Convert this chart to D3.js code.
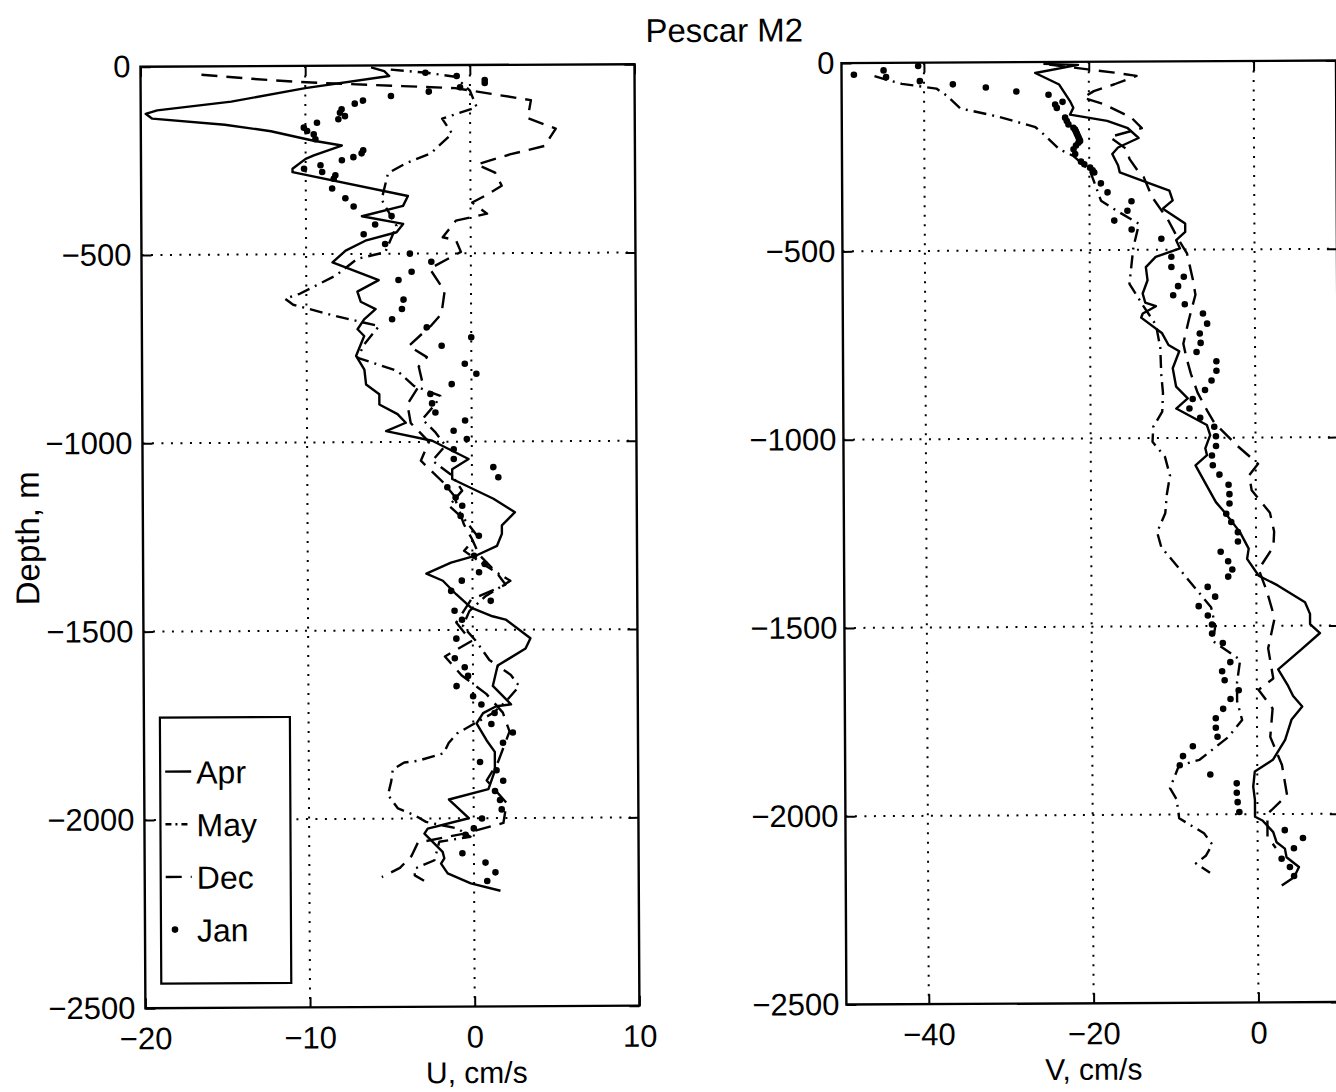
<!DOCTYPE html>
<html><head><meta charset="utf-8">
<script src="https://cdn.jsdelivr.net/npm/d3@7"></script>
<style>body{margin:0;background:#fff}svg{display:block}text{font-family:"Liberation Sans",Arial,Helvetica,sans-serif;fill:#000}</style>
</head><body>
<svg id="c" width="1336" height="1092"></svg>
<script>
// ---------- DATA (depth m, velocity cm/s) ----------
const months = ["Apr", "May", "Dec", "Jan"];
const xTicksU = [-20, -10, 0, 10];
const xTicksV = [-40, -20, 0];
const yTicks = [0, -500, -1000, -1500, -2000, -2500];
const title = "Pescar M2";

const aprU = [[-5,-6.0],[-15,-5.2],[-28,-4.9],[-59,-10.0],[-94,-14.5],[-116,-19.0],[-125,-19.7],[-138,-19.3],[-155,-14.9],[-173,-12.1],[-190,-10.4],[-199,-9.5],[-212,-7.8],[-238,-9.5],[-247,-10.0],[-273,-10.8],[-282,-10.8],[-347,-3.8],[-373,-4.1],[-400,-6.6],[-421,-4.1],[-443,-4.5],[-465,-6.4],[-491,-7.6],[-522,-8.4],[-570,-5.6],[-600,-6.9],[-627,-6.7],[-647,-5.8],[-674,-6.5],[-700,-6.9],[-718,-6.5],[-771,-7.0],[-807,-6.5],[-847,-6.4],[-873,-5.6],[-900,-5.6],[-926,-4.5],[-949,-4.0],[-971,-5.2],[-997,-2.4],[-1046,-0.2],[-1073,-1.2],[-1099,-1.2],[-1152,1.3],[-1188,2.6],[-1223,1.8],[-1245,1.8],[-1277,1.5],[-1303,0.2],[-1321,-1.3],[-1350,-2.8],[-1369,-1.8],[-1405,-1.0],[-1441,-0.1],[-1464,1.2],[-1473,2.0],[-1523,3.5],[-1550,3.2],[-1595,1.5],[-1649,1.2],[-1698,2.3],[-1703,1.4],[-1721,0.6],[-1748,0.2],[-1793,0.8],[-1824,1.3],[-1874,1.3],[-1923,0.9],[-1950,-1.5],[-2000,-0.3],[-2027,-2.8],[-2040,-3.0],[-2089,-1.9],[-2106,-1.8],[-2120,-2.0],[-2146,-1.6],[-2173,-0.2],[-2193,1.6]];
const mayU = [[-11,-4.8],[-20,-2.6],[-31,-0.9],[-68,0.0],[-112,0.4],[-142,-1.7],[-182,-1.1],[-234,-2.4],[-260,-3.9],[-286,-5.0],[-356,-5.4],[-426,-4.5],[-496,-5.2],[-513,-6.9],[-557,-8.2],[-605,-10.4],[-618,-11.3],[-634,-10.8],[-665,-8.2],[-692,-5.6],[-740,-6.5],[-776,-6.9],[-811,-4.5],[-851,-3.5],[-878,-1.9],[-900,-2.2],[-940,-3.0],[-975,-2.2],[-1010,-1.6],[-1050,-2.4],[-1090,-1.2],[-1130,-0.6],[-1170,-1.4],[-1210,-0.4],[-1250,0.3],[-1290,-0.5],[-1330,0.8],[-1370,2.3],[-1410,0.8],[-1450,-0.2],[-1490,-0.6],[-1530,0.2],[-1580,1.0],[-1620,2.3],[-1650,2.8],[-1690,2.0],[-1721,1.2],[-1748,0.1],[-1775,-1.0],[-1800,-1.5],[-1827,-1.8],[-1847,-3.4],[-1851,-4.2],[-1869,-4.9],[-1901,-5.0],[-1937,-5.2],[-1973,-4.6],[-1991,-3.6],[-2009,-2.9],[-2027,-1.0],[-2049,-0.2],[-2062,-2.1],[-2111,-2.4],[-2133,-3.6],[-2151,-3.6],[-2169,-2.9]];
const decU = [[-22,-16.3],[-33,-13.4],[-42,-10.6],[-48,-7.8],[-55,-4.1],[-61,-0.9],[-77,1.3],[-94,3.7],[-142,3.5],[-170,5.2],[-216,4.5],[-238,2.4],[-264,0.4],[-286,1.5],[-321,1.9],[-347,0.9],[-365,0.1],[-395,1.0],[-413,-0.9],[-457,-1.7],[-465,-0.9],[-496,-0.6],[-540,-2.5],[-600,-1.6],[-660,-1.8],[-690,-2.4],[-745,-3.8],[-775,-2.7],[-800,-3.2],[-838,-3.0],[-900,-3.9],[-950,-3.7],[-1000,-2.6],[-1050,-3.1],[-1110,-1.7],[-1143,-1.1],[-1220,-0.5],[-1260,0.0],[-1300,0.4],[-1350,1.5],[-1380,2.0],[-1420,-0.1],[-1480,-1.0],[-1530,-0.1],[-1570,-1.7],[-1620,-0.7],[-1670,0.8],[-1720,1.8],[-1770,2.2],[-1850,1.5],[-1900,0.8],[-1960,2.0],[-2013,1.8],[-2040,-0.5],[-2064,-3.4],[-2100,-3.8],[-2131,-4.5],[-2155,-5.6]];
const janU = [[-20,-2.7],[-29,-0.8],[-40,0.9],[-48,0.9],[-59,-0.6],[-70,-2.5],[-81,-4.8],[-93,-6.5],[-101,-7.0],[-116,-7.8],[-125,-7.9],[-134,-7.6],[-142,-8.0],[-151,-9.3],[-164,-10.1],[-173,-9.9],[-182,-9.5],[-195,-9.4],[-225,-6.5],[-233,-6.6],[-243,-7.1],[-251,-7.8],[-264,-9.1],[-273,-10.1],[-282,-9.0],[-291,-8.2],[-300,-8.3],[-326,-8.4],[-352,-7.6],[-374,-7.1],[-400,-4.8],[-422,-5.8],[-448,-6.5],[-474,-5.2],[-500,-3.7],[-522,-2.4],[-548,-3.6],[-570,-4.4],[-622,-4.1],[-647,-4.2],[-674,-4.8],[-696,-2.7],[-723,0.0],[-745,-1.8],[-793,-0.4],[-820,0.3],[-847,-1.2],[-873,-2.5],[-898,-2.4],[-922,-2.2],[-944,-0.4],[-971,-1.1],[-993,-0.3],[-1020,-1.1],[-1046,-1.1],[-1068,1.3],[-1095,1.6],[-1121,-1.5],[-1148,-1.0],[-1170,-0.6],[-1197,-0.7],[-1250,0.4],[-1303,0.1],[-1325,0.75],[-1347,0.4],[-1369,-0.65],[-1396,-1.3],[-1423,1.1],[-1449,-1.1],[-1473,-0.65],[-1523,-1.0],[-1575,-1.1],[-1599,-0.5],[-1622,-0.3],[-1649,-1.0],[-1676,0.0],[-1698,0.5],[-1721,1.3],[-1750,1.1],[-1773,2.4],[-1800,1.8],[-1851,0.4],[-1873,1.4],[-1901,1.8],[-1928,1.3],[-1952,1.6],[-1977,1.7],[-2001,0.5],[-2027,0.0],[-2044,-0.5],[-2093,-0.7],[-2118,0.7],[-2144,1.3],[-2167,0.8]];

const aprV = [[-5,-25.5],[-8,-21.3],[-29,-26.5],[-60,-23.6],[-104,-22.3],[-122,-21.9],[-140,-22.3],[-157,-17.8],[-177,-15.3],[-203,-14.0],[-228,-16.5],[-245,-17.2],[-276,-16.5],[-294,-16.3],[-316,-13.6],[-343,-10.3],[-369,-9.9],[-391,-11.1],[-431,-8.4],[-453,-8.4],[-475,-9.5],[-497,-9.05],[-519,-12.0],[-546,-13.2],[-581,-13.0],[-616,-13.6],[-640,-13.3],[-650,-12.0],[-669,-13.6],[-680,-13.8],[-721,-11.3],[-753,-10.5],[-770,-9.2],[-815,-10.0],[-864,-9.6],[-895,-8.2],[-922,-9.6],[-966,-5.9],[-993,-5.5],[-1028,-6.1],[-1046,-5.9],[-1073,-7.3],[-1171,-4.85],[-1198,-3.8],[-1251,-1.95],[-1295,-0.9],[-1322,-1.1],[-1367,0.3],[-1393,2.6],[-1438,5.9],[-1469,6.5],[-1496,6.5],[-1520,7.7],[-1562,5.5],[-1616,2.6],[-1660,3.8],[-1687,4.4],[-1715,5.5],[-1749,4.2],[-1803,3.4],[-1856,1.9],[-1887,-0.3],[-1927,-0.5],[-1963,-0.3],[-2007,-0.3],[-2017,0.6],[-2048,1.9],[-2075,2.3],[-2092,3.3],[-2115,3.5],[-2141,5.0],[-2168,4.4],[-2190,2.9]];
const mayV = [[-35,-46.0],[-45,-44.5],[-56,-42.7],[-69,-38.5],[-87,-37.3],[-122,-35.6],[-144,-31.1],[-153,-29.6],[-173,-26.5],[-192,-25.5],[-232,-23.6],[-250,-21.9],[-290,-19.9],[-369,-18.6],[-396,-16.7],[-431,-14.0],[-493,-14.7],[-590,-15.2],[-650,-13.5],[-700,-12.0],[-760,-11.5],[-830,-11.4],[-880,-11.2],[-930,-11.3],[-970,-12.4],[-1010,-12.5],[-1050,-11.0],[-1100,-10.4],[-1150,-10.8],[-1200,-11.0],[-1250,-12.0],[-1290,-11.5],[-1340,-9.6],[-1370,-8.5],[-1410,-7.0],[-1450,-5.5],[-1500,-5.0],[-1540,-5.3],[-1590,-2.0],[-1650,-2.4],[-1700,-2.4],[-1750,-1.8],[-1795,-3.5],[-1855,-7.0],[-1870,-9.5],[-1930,-10.6],[-1960,-9.8],[-2010,-9.5],[-2050,-6.5],[-2080,-5.5],[-2110,-6.3],[-2130,-7.5],[-2155,-5.8]];
const decV = [[-7,-24.8],[-29,-16.9],[-38,-14.2],[-60,-16.9],[-78,-19.4],[-95,-20.7],[-113,-18.2],[-148,-14.9],[-177,-13.6],[-200,-17.5],[-232,-15.5],[-259,-15.1],[-294,-14.0],[-307,-13.4],[-360,-12.4],[-420,-10.5],[-470,-9.3],[-510,-8.2],[-540,-7.9],[-580,-7.5],[-620,-7.2],[-685,-8.0],[-750,-8.7],[-790,-8.3],[-830,-7.8],[-880,-7.0],[-930,-5.8],[-960,-5.0],[-1020,-2.3],[-1070,0.3],[-1100,-0.8],[-1140,-0.5],[-1200,1.7],[-1250,2.2],[-1290,2.1],[-1350,0.3],[-1410,1.3],[-1480,2.2],[-1560,1.4],[-1640,2.0],[-1670,0.2],[-1720,1.9],[-1795,1.6],[-1870,3.0],[-1950,3.6],[-2000,1.2],[-2060,1.2],[-2090,2.2]];
const janV = [[-9,-40.7],[-20,-44.9],[-31,-48.5],[-38,-44.6],[-49,-40.5],[-58,-36.5],[-67,-32.5],[-78,-28.8],[-87,-24.9],[-106,-23.2],[-113,-24.1],[-122,-23.9],[-148,-22.9],[-157,-22.7],[-166,-22.5],[-175,-21.9],[-180,-21.7],[-185,-21.6],[-190,-21.5],[-195,-21.4],[-200,-21.3],[-205,-21.2],[-210,-21.1],[-215,-21.3],[-222,-21.6],[-232,-21.9],[-245,-21.7],[-265,-21.0],[-272,-20.6],[-281,-19.9],[-288,-19.6],[-294,-19.4],[-323,-18.6],[-347,-17.8],[-371,-14.9],[-396,-15.4],[-422,-17.0],[-446,-14.9],[-471,-11.3],[-519,-10.1],[-546,-10.1],[-572,-8.6],[-597,-9.3],[-621,-9.9],[-645,-8.5],[-670,-6.3],[-697,-5.8],[-723,-6.7],[-748,-6.6],[-772,-7.1],[-797,-4.7],[-822,-4.7],[-848,-5.3],[-873,-6.1],[-897,-7.6],[-922,-8.0],[-947,-6.7],[-971,-5.0],[-996,-4.8],[-1022,-4.8],[-1047,-5.3],[-1073,-5.2],[-1098,-4.4],[-1125,-3.3],[-1150,-3.2],[-1175,-3.2],[-1202,-3.6],[-1224,-3.0],[-1251,-2.2],[-1276,-2.2],[-1303,-4.3],[-1328,-3.4],[-1350,-2.9],[-1369,-3.4],[-1396,-5.9],[-1422,-5.0],[-1447,-7.0],[-1472,-5.9],[-1496,-5.4],[-1520,-5.4],[-1545,-4.1],[-1596,-3.2],[-1620,-4.2],[-1644,-3.9],[-1671,-2.2],[-1694,-3.2],[-1720,-4.1],[-1745,-5.0],[-1770,-5.0],[-1794,-4.8],[-1819,-7.8],[-1845,-9.0],[-1869,-9.4],[-1894,-5.7],[-1918,-2.5],[-1943,-2.5],[-1968,-2.4],[-1994,-2.2],[-2043,3.3],[-2064,5.5],[-2091,4.4],[-2119,2.9],[-2141,3.9],[-2165,4.4]];

// ---------- STYLE ----------
const dashStyle = {Apr: null, May: "13,6,2,6", Dec: "16,9"};
const FS = 31;
const LW = 2.4;

const svg = d3.select("#c");
svg.append("rect").attr("width",1336).attr("height",1092).attr("fill","#fff");
const root = svg.append("g").attr("transform","rotate(-0.3 668 546)");
const fmt = d3.format("d");

function panel(cfg) {
  const x = d3.scaleLinear().domain(cfg.xdom).range(cfg.xr);
  const y = d3.scaleLinear().domain([-2500, 0]).range([1005.5, 64]);
  const g = root.append("g");
  // grid
  g.append("g").selectAll("line").data(cfg.xticks.filter(v => v > cfg.xdom[0] && v < cfg.xdom[1]))
    .join("line").attr("x1", d => x(d)).attr("x2", d => x(d)).attr("y1", y(0)).attr("y2", y(-2500))
    .attr("stroke","#000").attr("stroke-width",2).attr("stroke-dasharray","2,7.5");
  g.append("g").selectAll("line").data(yTicks.filter(v => v > -2500 && v < 0))
    .join("line").attr("y1", d => y(d)).attr("y2", d => y(d)).attr("x1", x(cfg.xdom[0])).attr("x2", x(cfg.xdom[1]))
    .attr("stroke","#000").attr("stroke-width",2).attr("stroke-dasharray","2,7.5");
  // data
  const line = d3.line().x(d => x(d[1])).y(d => y(d[0]));
  const series = [["Apr", cfg.apr], ["May", cfg.may], ["Dec", cfg.dec]];
  series.forEach(([m, data]) => {
    g.append("path").datum(data).attr("d", line).attr("fill","none").attr("stroke","#000")
      .attr("stroke-width",LW).attr("stroke-linejoin","round")
      .attr("stroke-dasharray", dashStyle[m]);
  });
  g.append("g").selectAll("circle").data(cfg.jan).join("circle")
    .attr("cx", d => x(d[1])).attr("cy", d => y(d[0])).attr("r", 3.3).attr("fill","#000");
  // axes
  const ax = a => { a.selectAll(".domain").remove(); a.selectAll(".tick line").attr("stroke","#000").attr("stroke-width",2);
    a.selectAll(".tick text").attr("font-size",FS).attr("font-family",'"Liberation Sans",Arial,sans-serif'); };
  const bottom = g.append("g").attr("transform",`translate(0,${y(-2500)})`)
    .call(d3.axisBottom(x).tickValues(cfg.xticks).tickFormat(fmt).tickSizeInner(-10).tickSizeOuter(0).tickPadding(19));
  ax(bottom);
  const top = g.append("g").attr("transform",`translate(0,${y(0)})`)
    .call(d3.axisTop(x).tickValues(cfg.xticks).tickSizeInner(-10).tickSizeOuter(0).tickFormat(""));
  ax(top);
  const left = g.append("g").attr("transform",`translate(${x(cfg.xdom[0])},0)`)
    .call(d3.axisLeft(y).tickValues(yTicks).tickFormat(fmt).tickSizeInner(-10).tickSizeOuter(0).tickPadding(cfg.ypad));
  ax(left);
  const right = g.append("g").attr("transform",`translate(${x(cfg.xdom[1])},0)`)
    .call(d3.axisRight(y).tickValues(yTicks).tickSizeInner(-10).tickSizeOuter(0).tickFormat(""));
  ax(right);
  // frame
  g.append("rect").attr("x", x(cfg.xdom[0])).attr("y", y(0))
    .attr("width", x(cfg.xdom[1]) - x(cfg.xdom[0])).attr("height", y(-2500) - y(0))
    .attr("fill","none").attr("stroke","#000").attr("stroke-width",2.4);
  // x label
  g.append("text").attr("x", cfg.xlabX).attr("y", 1082).attr("text-anchor","middle")
    .attr("font-size",30).text(cfg.xlabel);
  return {x, y, g};
}

const L = panel({xdom:[-20,10], xr:[143,637], xticks:xTicksU, apr:aprU, may:mayU, dec:decU, jan:janU,
  ypad:10, xlabel:"U, cm/s", xlabX:474});
const R = panel({xdom:[-50,10], xr:[844,1338.5], xticks:xTicksV, apr:aprV, may:mayV, dec:decV, jan:janV,
  ypad:7, xlabel:"V, cm/s", xlabX:1091});

// y label
root.append("text").attr("transform","translate(39,535) rotate(-90)").attr("text-anchor","middle")
  .attr("font-size",33).text("Depth, m");
// title
root.append("text").attr("x",727).attr("y",42).attr("text-anchor","middle").attr("font-size",33).text(title);

// legend (left panel)
const lg = root.append("g");
lg.append("rect").attr("x",159).attr("y",715).attr("width",130).attr("height",266)
  .attr("fill","#fff").attr("stroke","#000").attr("stroke-width",2.2);
const legY = d3.scalePoint().domain(months).range([769, 927]);
months.forEach(m => {
  const yy = legY(m);
  if (m === "Jan") {
    lg.append("circle").attr("cx",173).attr("cy",yy).attr("r",3.3).attr("fill","#000");
  } else {
    lg.append("line").attr("x1",164).attr("x2",190).attr("y1",yy).attr("y2",yy)
      .attr("stroke","#000").attr("stroke-width",LW)
      .attr("stroke-dasharray", m === "May" ? "6,4,2,4" : (m === "Dec" ? "16,9" : null));
  }
  lg.append("text").attr("x",195).attr("y",yy + 12).attr("font-size",32).text(m);
});
</script>
</body></html>
